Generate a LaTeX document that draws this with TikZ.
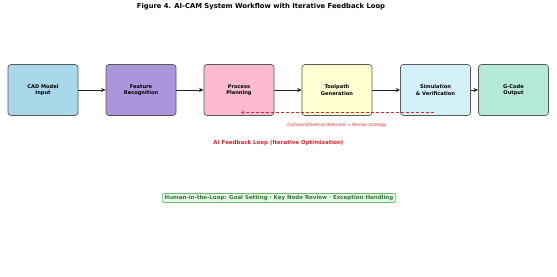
\documentclass[tikz,border=0pt]{standalone}
\usepackage{fontspec}
\setmainfont{DejaVu Sans}
\usetikzlibrary{arrows.meta, positioning}
\definecolor{cadBlue}{HTML}{A8D8EA}
\definecolor{featPurple}{HTML}{AA96DA}
\definecolor{procPink}{HTML}{FCBAD3}
\definecolor{toolYellow}{HTML}{FFFFD2}
\definecolor{simCyan}{HTML}{D4F1F9}
\definecolor{gcodeMint}{HTML}{B5EAD7}
\definecolor{loopRed}{HTML}{D62728}
\definecolor{humanGreen}{HTML}{2E7D32}
\definecolor{humanFill}{HTML}{E8F5E9}
\definecolor{humanEdge}{HTML}{66BB6A}

\begin{document}
\begin{tikzpicture}[x=1pt, y=-1pt,
    stage/.style={draw=black!65, line width=0.7pt, rounded corners=3pt,
      minimum width=70pt, minimum height=51pt, align=center,
      font=\fontsize{5.1}{6.2}\selectfont\bfseries},
    flow/.style={-{Stealth[length=4.5pt, width=4pt]}, line width=0.8pt, black!85}]
    \fill[white] (0,0) rectangle (557,276);
    \useasboundingbox (0,0) rectangle (557,276);
    % title
    \node[font=\fontsize{6.8}{7}\selectfont\bfseries] (title) at (261,7)
      {Figure 4. AI-CAM System Workflow with Iterative Feedback Loop};
    % workflow stages
    \node[stage, fill=cadBlue]    (cad)  at (43,90)    {CAD Model\\Input};
    \node[stage, fill=featPurple] (feat) at (141,90)   {Feature\\Recognition};
    \node[stage, fill=procPink]   (proc) at (239,90)   {Process\\Planning};
    \node[stage, fill=toolYellow] (tool) at (337,90)   {Toolpath\\Generation};
    \node[stage, fill=simCyan]    (sim)  at (435.5,90) {Simulation\\\& Verification};
    \node[stage, fill=gcodeMint]  (gcode) at (513.5,90) {G-Code\\Output};
    \draw[flow] (cad) -- (feat);
    \draw[flow] (feat) -- (proc);
    \draw[flow] (proc) -- (tool);
    \draw[flow] (tool) -- (sim);
    \draw[flow] (sim) -- (gcode);
    % feedback from simulation back to planning
    \coordinate (fbStart) at (434,112.5);
    \coordinate (fbEnd) at (241,112.5);
    \draw[loopRed, dashed, line width=0.8pt, dash pattern=on 3.5pt off 1.5pt,
      -{Stealth[length=3pt, width=3pt]}] (fbStart) -- (fbEnd);
    \node[loopRed, font=\fontsize{4.4}{5}\selectfont\itshape] (fbNote) at (337,125)
      {Collision/Overcut detected → Revise strategy};
    \node[loopRed, font=\fontsize{5.5}{6}\selectfont\bfseries] (fbLabel) at (278.5,143)
      {AI Feedback Loop (Iterative Optimization)};
    % human in the loop
    \node[draw=humanEdge, fill=humanFill, text=humanGreen, rounded corners=2pt,
      line width=0.7pt, inner xsep=2.5pt, inner ysep=1.8pt,
      font=\fontsize{5.5}{6}\selectfont\bfseries] (human) at (279,198)
      {Human-in-the-Loop: Goal Setting · Key Node Review · Exception Handling};
\end{tikzpicture}
\end{document}
